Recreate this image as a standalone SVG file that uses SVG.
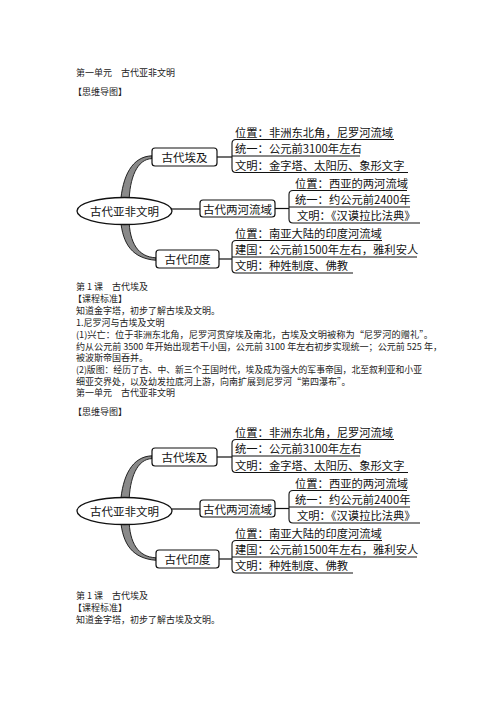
<svg xmlns="http://www.w3.org/2000/svg" width="496" height="702" viewBox="0 0 496 702">
<style>
.body{font-family:"Noto Sans CJK SC","Noto Sans",sans-serif;font-size:9px;fill:#222;}
.lbl{font-family:"Noto Sans CJK SC","Noto Sans",sans-serif;font-size:11.3px;fill:#111;}
.nd{font-family:"Noto Sans CJK SC","Noto Sans",sans-serif;font-size:11.5px;fill:#111;text-anchor:middle;dominant-baseline:central;}
.box{fill:#fff;stroke:#111;stroke-width:1.2;}
.ln{fill:none;stroke:#111;stroke-width:1.2;}
.ul{fill:none;stroke:#111;stroke-width:1.1;}
.br{fill:#8a8a8a;stroke:#111;stroke-width:0.9;}
</style>
<rect width="496" height="702" fill="#fff"/>

<g id="text-top">
<text class="body" x="76" y="76" xml:space="preserve">第一单元　古代亚非文明</text>
<text class="body" x="73" y="95">【思维导图】</text>
</g>

<!-- Diagram 1 -->
<g id="d1-connectors">
<path class="br" d="M120.5,203 C122.5,176 132,156.5 152,155.8 L152,158.6 C137,159 129.5,178 129,203 Z"/>
<path class="br" d="M120.5,219 C122.5,245 133,258.5 156,260.3 L156,257.8 C138,257 129.5,243 129,219 Z"/>
<line class="ln" x1="171" y1="209" x2="200" y2="209"/>
<line class="ln" x1="217" y1="157" x2="232" y2="157"/>
<line class="ln" x1="275" y1="208.5" x2="289" y2="208.5"/>
<line class="ln" x1="219" y1="259" x2="232" y2="259"/>
<path class="ul" d="M236,139.5 Q232,139.5 232,143.5 L232,168.5 Q232,172.5 236,172.5"/>
<path class="ul" d="M293,190.5 Q289,190.5 289,194.5 L289,219 Q289,223 293,223"/>
<path class="ul" d="M236,240.5 Q232,240.5 232,244.5 L232,269 Q232,273 236,273"/>
</g>
<g id="d1-root">
<ellipse cx="124.5" cy="211" rx="47.5" ry="13.5" fill="#fff" stroke="#111" stroke-width="1.3"/>
<text class="nd" x="124.5" y="211">古代亚非文明</text>
</g>
<g id="d1-egypt">
<rect class="box" x="152" y="148" width="65" height="18" rx="3"/>
<text class="nd" x="184.5" y="157">古代埃及</text>
</g>
<g id="d1-mesopotamia">
<rect class="box" x="200" y="200" width="75" height="17" rx="3"/>
<text class="nd" x="237.5" y="208.5">古代两河流域</text>
</g>
<g id="d1-india">
<rect class="box" x="156" y="250" width="63" height="18" rx="3"/>
<text class="nd" x="187.5" y="259">古代印度</text>
</g>
<g id="d1-egypt-1"><text class="lbl" x="235" y="136.5">位置：非洲东北角，尼罗河流域</text><line class="ul" x1="236" y1="139.5" x2="394" y2="139.5"/></g>
<g id="d1-egypt-2"><text class="lbl" x="235" y="153">统一：公元前3100年左右</text><line class="ul" x1="232" y1="156" x2="360" y2="156"/></g>
<g id="d1-egypt-3"><text class="lbl" x="235" y="169.5">文明：金字塔、太阳历、象形文字</text><line class="ul" x1="236" y1="172.5" x2="408" y2="172.5"/></g>
<g id="d1-meso-1"><text class="lbl" x="295" y="187.5">位置：西亚的两河流域</text><line class="ul" x1="293" y1="190.5" x2="407" y2="190.5"/></g>
<g id="d1-meso-2"><text class="lbl" x="295" y="204">统一：约公元前2400年</text><line class="ul" x1="289" y1="207" x2="410" y2="207"/></g>
<g id="d1-meso-3"><text class="lbl" x="297" y="220">文明：《汉谟拉比法典》</text><line class="ul" x1="293" y1="223" x2="420" y2="223"/></g>
<g id="d1-india-1"><text class="lbl" x="235" y="237.5">位置：南亚大陆的印度河流域</text><line class="ul" x1="236" y1="240.5" x2="382" y2="240.5"/></g>
<g id="d1-india-2"><text class="lbl" x="235" y="254">建国：公元前1500年左右，雅利安人</text><line class="ul" x1="232" y1="257" x2="417" y2="257"/></g>
<g id="d1-india-3"><text class="lbl" x="235" y="270">文明：种姓制度、佛教</text><line class="ul" x1="236" y1="273" x2="353" y2="273"/></g>

<g id="text-middle">
<text class="body" x="76" y="290" xml:space="preserve">第 1 课　古代埃及</text>
<text class="body" x="73" y="302">【课程标准】</text>
<text class="body" x="76" y="314">知道金字塔，初步了解古埃及文明。</text>
<text class="body" x="76" y="326">1.尼罗河与古埃及文明</text>
<text class="body" x="76" y="337.5" textLength="357" lengthAdjust="spacingAndGlyphs">(1)兴亡：位于非洲东北角，尼罗河贯穿埃及南北，古埃及文明被称为“尼罗河的赠礼”。</text>
<text class="body" x="76" y="349.5" textLength="366" lengthAdjust="spacingAndGlyphs">约从公元前 3500 年开始出现若干小国，公元前 3100 年左右初步实现统一；公元前 525 年，</text>
<text class="body" x="76" y="361">被波斯帝国吞并。</text>
<text class="body" x="76" y="372.5" textLength="346" lengthAdjust="spacingAndGlyphs">(2)版图：经历了古、中、新三个王国时代，埃及成为强大的军事帝国，北至叙利亚和小亚</text>
<text class="body" x="76" y="384.5">细亚交界处，以及幼发拉底河上游，向南扩展到尼罗河“第四瀑布”。</text>
<text class="body" x="76" y="396" xml:space="preserve">第一单元　古代亚非文明</text>
<text class="body" x="73" y="415">【思维导图】</text>
</g>

<!-- Diagram 2 -->
<g id="d2-connectors" transform="translate(0,300)">
<path class="br" d="M120.5,203 C122.5,176 132,156.5 152,155.8 L152,158.6 C137,159 129.5,178 129,203 Z"/>
<path class="br" d="M120.5,219 C122.5,245 133,258.5 156,260.3 L156,257.8 C138,257 129.5,243 129,219 Z"/>
<line class="ln" x1="171" y1="209" x2="200" y2="209"/>
<line class="ln" x1="217" y1="157" x2="232" y2="157"/>
<line class="ln" x1="275" y1="208.5" x2="289" y2="208.5"/>
<line class="ln" x1="219" y1="259" x2="232" y2="259"/>
<path class="ul" d="M236,139.5 Q232,139.5 232,143.5 L232,168.5 Q232,172.5 236,172.5"/>
<path class="ul" d="M293,190.5 Q289,190.5 289,194.5 L289,219 Q289,223 293,223"/>
<path class="ul" d="M236,240.5 Q232,240.5 232,244.5 L232,269 Q232,273 236,273"/>
</g>
<g id="d2-root" transform="translate(0,300)">
<ellipse cx="124.5" cy="211" rx="47.5" ry="13.5" fill="#fff" stroke="#111" stroke-width="1.3"/>
<text class="nd" x="124.5" y="211">古代亚非文明</text>
</g>
<g id="d2-egypt" transform="translate(0,300)">
<rect class="box" x="152" y="148" width="65" height="18" rx="3"/>
<text class="nd" x="184.5" y="157">古代埃及</text>
</g>
<g id="d2-mesopotamia" transform="translate(0,300)">
<rect class="box" x="200" y="200" width="75" height="17" rx="3"/>
<text class="nd" x="237.5" y="208.5">古代两河流域</text>
</g>
<g id="d2-india" transform="translate(0,300)">
<rect class="box" x="156" y="250" width="63" height="18" rx="3"/>
<text class="nd" x="187.5" y="259">古代印度</text>
</g>
<g id="d2-egypt-1" transform="translate(0,300)"><text class="lbl" x="235" y="136.5">位置：非洲东北角，尼罗河流域</text><line class="ul" x1="236" y1="139.5" x2="394" y2="139.5"/></g>
<g id="d2-egypt-2" transform="translate(0,300)"><text class="lbl" x="235" y="153">统一：公元前3100年左右</text><line class="ul" x1="232" y1="156" x2="360" y2="156"/></g>
<g id="d2-egypt-3" transform="translate(0,300)"><text class="lbl" x="235" y="169.5">文明：金字塔、太阳历、象形文字</text><line class="ul" x1="236" y1="172.5" x2="408" y2="172.5"/></g>
<g id="d2-meso-1" transform="translate(0,300)"><text class="lbl" x="295" y="187.5">位置：西亚的两河流域</text><line class="ul" x1="293" y1="190.5" x2="407" y2="190.5"/></g>
<g id="d2-meso-2" transform="translate(0,300)"><text class="lbl" x="295" y="204">统一：约公元前2400年</text><line class="ul" x1="289" y1="207" x2="410" y2="207"/></g>
<g id="d2-meso-3" transform="translate(0,300)"><text class="lbl" x="297" y="220">文明：《汉谟拉比法典》</text><line class="ul" x1="293" y1="223" x2="420" y2="223"/></g>
<g id="d2-india-1" transform="translate(0,300)"><text class="lbl" x="235" y="237.5">位置：南亚大陆的印度河流域</text><line class="ul" x1="236" y1="240.5" x2="382" y2="240.5"/></g>
<g id="d2-india-2" transform="translate(0,300)"><text class="lbl" x="235" y="254">建国：公元前1500年左右，雅利安人</text><line class="ul" x1="232" y1="257" x2="417" y2="257"/></g>
<g id="d2-india-3" transform="translate(0,300)"><text class="lbl" x="235" y="270">文明：种姓制度、佛教</text><line class="ul" x1="236" y1="273" x2="353" y2="273"/></g>

<g id="text-bottom">
<text class="body" x="76" y="598.5" xml:space="preserve">第 1 课　古代埃及</text>
<text class="body" x="73" y="610.5">【课程标准】</text>
<text class="body" x="76" y="622.5">知道金字塔，初步了解古埃及文明。</text>
</g>
</svg>
